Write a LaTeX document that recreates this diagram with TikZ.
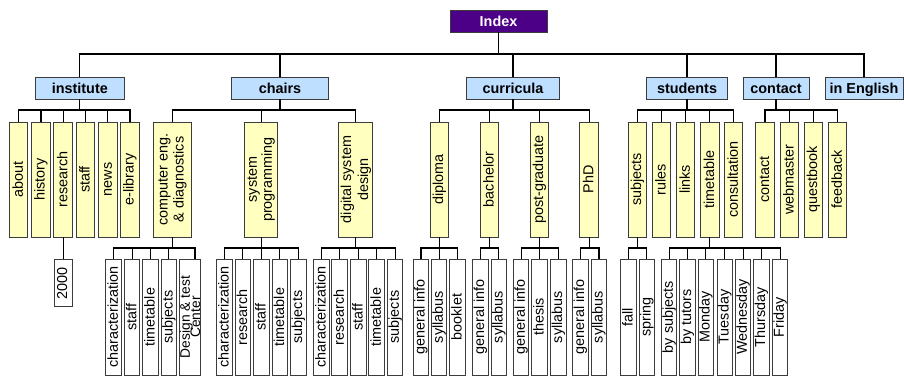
\documentclass[tikz,border=0pt]{standalone}
\usepackage{fontspec}
\usepackage{graphicx}
\setmainfont{Liberation Sans}
\definecolor{idx}{RGB}{75,0,135}
\definecolor{lblue}{RGB}{190,223,255}
\definecolor{lyel}{RGB}{255,255,192}
\definecolor{bord}{RGB}{60,60,60}
% vertical (bottom-to-top) single line text with a fixed strut
\newcommand\vt[1]{\rotatebox{90}{\rule[-2pt]{0pt}{12pt}#1}}
% vertical multi-line text: optional line distance, lines separated by \\
\newcommand\vtt[2][16pt]{\rotatebox{90}{\parbox{105pt}{\centering
  \fontsize{14.4}{#1}\selectfont\lineskiplimit=-20pt\relax #2\par}}}
\newcommand\vttsmall[1]{\rotatebox{90}{\parbox{105pt}{\centering
  \fontsize{13.8}{10.2pt}\selectfont\lineskiplimit=-20pt\relax #1\par}}}
\begin{document}
\begin{tikzpicture}[x=1pt,y=-1pt,
  box/.style={draw=bord, line width=1pt, inner sep=0pt, outer sep=0pt,
    font=\fontsize{14.4}{16}\selectfont},
  topbox/.style={box, fill=idx, text=white, font=\bfseries\fontsize{14.4}{16}\selectfont,
    text height=12pt, text depth=2pt, minimum width=97pt, minimum height=22pt},
  lvone/.style={box, fill=lblue, font=\bfseries\fontsize{14.4}{16}\selectfont,
    text height=12pt, text depth=2pt, minimum height=22pt, minimum width=#1},
  lvtwo/.style={box, fill=lyel, minimum height=115pt, minimum width=18.5pt},
  lvtwow/.style={lvtwo, minimum width=#1},
  lvthree/.style={box, fill=white, minimum height=116pt, minimum width=15.5pt},
  conn/.style={line width=1.3pt, black}
]
\useasboundingbox (0,0) rectangle (904,376);

% root
\node[topbox] (index) at (498.5,21) {Index};

% level 1
\node[lvone=89pt]   (inst) at (79.8,88)  {institute};
\node[lvone=96.6pt] (chr)  at (280,88)   {chairs};
\node[lvone=92.6pt] (cur)  at (513,88)   {curricula};
\node[lvone=81.6pt] (stu)  at (687,88)   {students};
\node[lvone=66pt]   (con)  at (776,88)   {contact};
\node[lvone=78pt]   (eng)  at (864,88)   {in English};

% level 2 - institute
\node[lvtwo] (iab) at (18.7,179.5)  {\vt{about}};
\node[lvtwo] (ihi) at (40.9,179.5)  {\vt{history}};
\node[lvtwo] (ire) at (63.2,179.5)  {\vt{research}};
\node[lvtwo] (ist) at (85.5,179.5)  {\vt{staff}};
\node[lvtwo] (ine) at (107.8,179.5) {\vt{news}};
\node[lvtwo] (iel) at (130,179.5)   {\vt{e-library}};
% level 2 - chairs
\node[lvtwow=38pt]   (ced) at (172.5,179.5) {\vtt{computer eng.\\\& diagnostics}};
\node[lvtwow=32.7pt] (csp) at (261.3,179.5) {\vtt[15pt]{system\\programming}};
\node[lvtwow=33.7pt] (cds) at (355.8,179.5) {\vtt[17pt]{digital system\\design}};
% level 2 - curricula
\node[lvtwo] (udi) at (439.3,179.5) {\vt{diploma}};
\node[lvtwo] (uba) at (489.3,179.5) {\vt{bachelor}};
\node[lvtwo] (upg) at (539.3,179.5) {\vt{post-graduate}};
\node[lvtwo] (uph) at (589.2,179.5) {\vt{PhD}};
% level 2 - students
\node[lvtwo] (ssu) at (637.5,179.5) {\vt{subjects}};
\node[lvtwo] (sru) at (661.5,179.5) {\vt{rules}};
\node[lvtwo] (sli) at (685.7,179.5) {\vt{links}};
\node[lvtwo] (sti) at (709.8,179.5) {\vt{timetable}};
\node[lvtwo] (sco) at (733.7,179.5) {\vt{consultation}};
% level 2 - contact
\node[lvtwo] (kco) at (765,179.5)   {\vt{contact}};
\node[lvtwo] (kwe) at (789.3,179.5) {\vt{webmaster}};
\node[lvtwo] (kqu) at (813.3,179.5) {\vt{questbook}};
\node[lvtwo] (kfe) at (837.7,179.5) {\vt{feedback}};

% level 3
\node[lvthree, minimum height=47.4pt, minimum width=18.3pt] (r2000) at (63.2,283) {\vt{2000}};
% computer eng.
\node[lvthree] (a1) at (113.7,317) {\vt{characterization}};
\node[lvthree] (a2) at (132.2,317) {\vt{staff}};
\node[lvthree] (a3) at (150.5,317) {\vt{timetable}};
\node[lvthree] (a4) at (168.8,317) {\vt{subjects}};
\node[lvthree, minimum width=20pt] (a5) at (190,317) {\vttsmall{Design \& test\\Center}};
% system programming
\node[lvthree] (b1) at (224.5,317) {\vt{characterization}};
\node[lvthree] (b2) at (242.8,317) {\vt{research}};
\node[lvthree] (b3) at (261.3,317) {\vt{staff}};
\node[lvthree] (b4) at (279.8,317) {\vt{timetable}};
\node[lvthree] (b5) at (298.3,317) {\vt{subjects}};
% digital system design
\node[lvthree] (c1) at (321.3,317) {\vt{characterization}};
\node[lvthree] (c2) at (339.7,317) {\vt{research}};
\node[lvthree] (c3) at (358.3,317) {\vt{staff}};
\node[lvthree] (c4) at (376.7,317) {\vt{timetable}};
\node[lvthree] (c5) at (395.2,317) {\vt{subjects}};
% diploma
\node[lvthree] (d1) at (421,317)   {\vt{general info}};
\node[lvthree] (d2) at (439.2,317) {\vt{syllabus}};
\node[lvthree] (d3) at (457.5,317) {\vt{booklet}};
% bachelor
\node[lvthree] (e1) at (480.5,317) {\vt{general info}};
\node[lvthree] (e2) at (498.8,317) {\vt{syllabus}};
% post-graduate
\node[lvthree] (f1) at (521.2,317) {\vt{general info}};
\node[lvthree] (f2) at (539.5,317) {\vt{thesis}};
\node[lvthree] (f3) at (558.3,317) {\vt{syllabus}};
% PhD
\node[lvthree] (g1) at (580.5,317) {\vt{general info}};
\node[lvthree] (g2) at (599,317)   {\vt{syllabus}};
% subjects
\node[lvthree] (h1) at (628.3,317) {\vt{fall}};
\node[lvthree] (h2) at (646.8,317) {\vt{spring}};
% timetable
\node[lvthree] (t1) at (669.2,317) {\vt{by subjects}};
\node[lvthree] (t2) at (687.5,317) {\vt{by tutors}};
\node[lvthree] (t3) at (705.8,317) {\vt{Monday}};
\node[lvthree] (t4) at (724.8,317) {\vt{Tuesday}};
\node[lvthree] (t5) at (743.2,317) {\vt{Wednesday}};
\node[lvthree] (t6) at (761.5,317) {\vt{Thursday}};
\node[lvthree] (t7) at (780.2,317) {\vt{Friday}};

% connectors root -> level 1
\foreach \c in {inst,chr,cur,stu,con,eng}
  \draw[conn] (index.south) -- ++(0,22) -| (\c.north);
% level 1 -> level 2
\foreach \c in {iab,ihi,ire,ist,ine,iel}
  \draw[conn] (inst.south) -- ++(0,11) -| (\c.north);
\foreach \c in {ced,csp,cds}
  \draw[conn] (chr.south) -- ++(0,11) -| (\c.north);
\foreach \c in {udi,uba,upg,uph}
  \draw[conn] (cur.south) -- ++(0,11) -| (\c.north);
\foreach \c in {ssu,sru,sli,sti,sco}
  \draw[conn] (stu.south) -- ++(0,11) -| (\c.north);
\foreach \c in {kco,kwe,kqu,kfe}
  \draw[conn] (con.south) -- ++(0,11) -| (\c.north);
% level 2 -> level 3
\draw[conn] (ire.south) -- (r2000.north);
\foreach \c in {a1,a2,a3,a4}
  \draw[conn] (ced.south) -- ++(0,11) -| (\c.north);
\draw[conn] (ced.south) -- ++(0,11) -| ([xshift=5pt]a5.north);
\foreach \c in {b1,b2,b3,b4,b5}
  \draw[conn] (csp.south) -- ++(0,11) -| (\c.north);
\foreach \c in {c1,c2,c3,c4,c5}
  \draw[conn] (cds.south) -- ++(0,11) -| (\c.north);
\foreach \c in {d1,d2,d3}
  \draw[conn] (udi.south) -- ++(0,11) -| (\c.north);
\foreach \c in {e1,e2}
  \draw[conn] (uba.south) -- ++(0,11) -| (\c.north);
\foreach \c in {f1,f2,f3}
  \draw[conn] (upg.south) -- ++(0,11) -| (\c.north);
\foreach \c in {g1,g2}
  \draw[conn] (uph.south) -- ++(0,11) -| (\c.north);
\foreach \c in {h1,h2}
  \draw[conn] (ssu.south) -- ++(0,11) -| (\c.north);
\foreach \c in {t1,t2,t3,t4,t5,t6,t7}
  \draw[conn] (sti.south) -- ++(0,11) -| (\c.north);
\end{tikzpicture}
\end{document}
